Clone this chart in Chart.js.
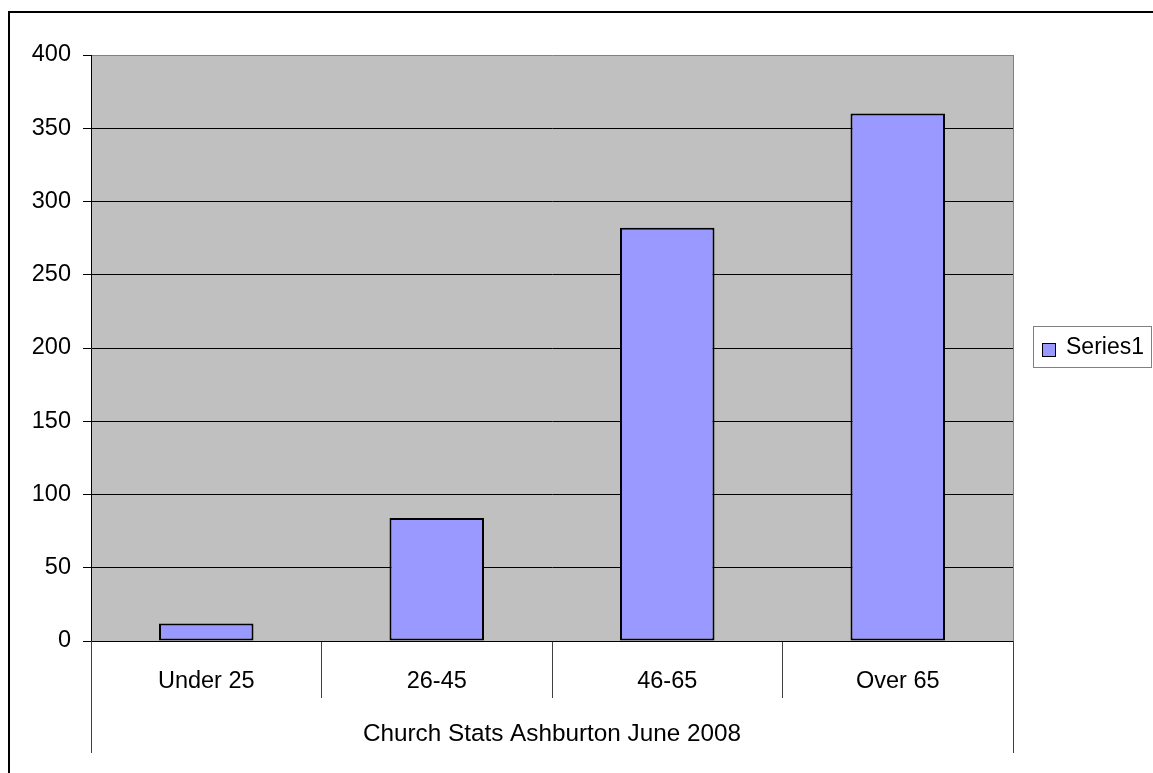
<!DOCTYPE html>
<html>
<head>
<meta charset="utf-8">
<script src="https://cdn.jsdelivr.net/npm/chart.js@4"></script>
<style>
  html, body { margin: 0; padding: 0; background: #ffffff; }
  #wrap { width: 1153px; height: 773px; position: relative; }
</style>
</head>
<body>
<div id="wrap"><canvas id="c" width="1153" height="773"></canvas></div>
<script>
const categories = ["Under 25", "26-45", "46-65", "Over 65"];
const series1 = [12, 84, 282, 360];
const seriesName = "Series1";
const axisTitle = "Church Stats Ashburton June 2008";
const yMin = 0, yMax = 400, yStep = 50;

const FONT = "'Liberation Sans', Arial, sans-serif";

const decor = {
  id: 'decor',
  beforeDraw(chart) {
    const {ctx, chartArea: a} = chart;
    ctx.save();
    ctx.fillStyle = '#c0c0c0';
    ctx.fillRect(a.left, a.top, a.right - a.left, a.bottom - a.top);
    ctx.restore();
  },
  afterDraw(chart) {
    const {ctx, chartArea: a} = chart;
    const xs = chart.scales.x;
    ctx.save();
    // plot area right edge (gray)
    ctx.strokeStyle = '#808080';
    ctx.lineWidth = 1;
    ctx.beginPath();
    ctx.moveTo(Math.round(a.right) + 0.5, a.top);
    ctx.lineTo(Math.round(a.right) + 0.5, a.bottom);
    ctx.stroke();
    // outer category dividers (long)
    ctx.strokeStyle = '#404040';
    ctx.beginPath();
    [a.left, a.right].forEach(x => {
      ctx.moveTo(Math.round(x) + 0.5, a.bottom);
      ctx.lineTo(Math.round(x) + 0.5, xs.bottom - 20);
    });
    ctx.stroke();
    // outer chart border
    ctx.strokeStyle = '#000000';
    ctx.lineWidth = 2;
    ctx.strokeRect(9, 12, 1300, 900);
    // legend
    const ds = chart.data.datasets[0];
    const lx = 1033.5, ly = 326.5, lw = 118, lh = 41;
    ctx.fillStyle = '#ffffff';
    ctx.fillRect(lx, ly, lw, lh);
    ctx.lineWidth = 1;
    ctx.strokeStyle = '#808080';
    ctx.strokeRect(lx, ly, lw, lh);
    ctx.fillStyle = ds.backgroundColor;
    ctx.fillRect(1042.5, 343.5, 13, 13);
    ctx.strokeStyle = '#000000';
    ctx.strokeRect(1042.5, 343.5, 13, 13);
    ctx.fillStyle = '#000000';
    ctx.font = "23px " + FONT;
    ctx.textBaseline = 'middle';
    ctx.textAlign = 'left';
    ctx.fillText(ds.label, 1066, 348);
    ctx.restore();
  }
};

new Chart(document.getElementById('c'), {
  type: 'bar',
  data: {
    labels: categories,
    datasets: [{
      label: seriesName,
      data: series1,
      backgroundColor: '#9999ff',
      borderColor: '#000000',
      borderWidth: 2,
      borderSkipped: false,
      barPercentage: 0.41,
      categoryPercentage: 1.0
    }]
  },
  options: {
    responsive: false,
    animation: false,
    layout: { padding: { left: 0, top: 55, right: 140, bottom: 0 } },
    plugins: {
      legend: { display: false },
      tooltip: { enabled: false },
      title: { display: false }
    },
    scales: {
      x: {
        type: 'category',
        offset: true,
        afterFit(scale) { scale.height = 132; },
        grid: {
          offset: true,
          drawOnChartArea: false,
          drawTicks: true,
          tickLength: 57,
          color: '#404040',
          lineWidth: 1
        },
        border: { display: true, color: '#000000', width: 1 },
        ticks: {
          color: '#000000',
          font: { family: FONT, size: 23.5 },
          padding: -31,
          maxRotation: 0,
          autoSkip: false
        },
        title: {
          display: true,
          text: axisTitle,
          color: '#000000',
          font: { family: FONT, size: 24.3 },
          padding: { top: 0, bottom: 24 }
        }
      },
      y: {
        min: yMin,
        max: yMax,
        afterFit(scale) { scale.width = 91; },
        ticks: {
          stepSize: yStep,
          color: '#000000',
          font: { family: FONT, size: 23.5 },
          padding: 12
        },
        grid: {
          color: ctx => (ctx.tick && ctx.tick.value === yMax) ? '#808080' : '#000000',
          tickColor: '#000000',
          tickLength: 8,
          lineWidth: 1
        },
        border: { display: true, color: '#000000', width: 1 }
      }
    }
  },
  plugins: [decor]
});
</script>
</body>
</html>
